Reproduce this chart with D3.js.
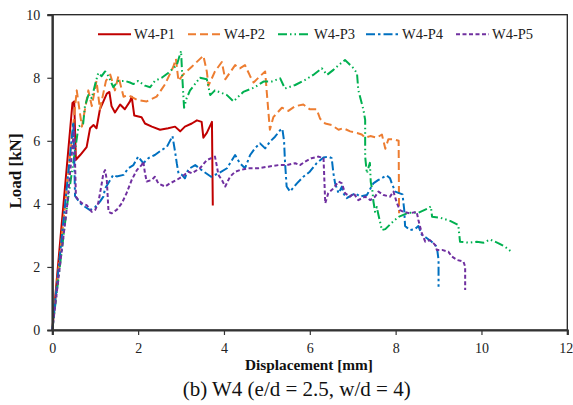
<!DOCTYPE html>
<html><head><meta charset="utf-8">
<script src="https://cdn.jsdelivr.net/npm/d3@7"></script>
<style>body{margin:0;background:#fff}svg{display:block}text{font-family:"Liberation Serif","Times New Roman",serif}</style>
</head><body><svg id="c" width="573" height="405"></svg>
<script>
const xTicks = [0,2,4,6,8,10,12];
const yTicks = [0,2,4,6,8,10];
const seriesNames = ["W4-P1","W4-P2","W4-P3","W4-P4","W4-P5"];
const p1 = [[0,0],[0.47,7.2],[0.51,7.25],[0.55,5.4],[0.65,5.55],[0.8,5.8],[0.88,6.4],[0.96,6.5],[1.03,6.4],[1.11,7.0],[1.27,7.5],[1.33,7.55],[1.38,7.1],[1.46,6.9],[1.58,7.15],[1.69,7.0],[1.81,7.25],[1.85,7.4],[1.91,6.8],[2.08,6.75],[2.16,6.55],[2.32,6.45],[2.51,6.35],[2.7,6.4],[2.86,6.45],[2.98,6.3],[3.09,6.45],[3.25,6.55],[3.37,6.65],[3.48,6.6],[3.52,6.1],[3.6,6.25],[3.72,6.6],[3.74,3.95]];
const p2 = [[0,0],[0.3,4.0],[0.57,7.6],[0.61,7.2],[0.69,6.45],[0.84,7.6],[0.92,7.1],[1.03,7.9],[1.11,7.0],[1.25,7.9],[1.35,8.1],[1.46,7.6],[1.54,8.05],[1.66,7.4],[1.77,7.45],[1.97,7.3],[2.2,7.25],[2.43,7.4],[2.63,7.8],[2.82,8.35],[2.88,8.6],[2.94,7.9],[3.05,8.1],[3.25,8.35],[3.52,8.7],[3.6,8.2],[3.64,7.75],[3.79,8.2],[3.95,8.5],[4.03,7.95],[4.26,8.4],[4.37,8.3],[4.49,8.4],[4.61,8.05],[4.69,7.85],[4.84,8.05],[4.96,8.2],[5.0,7.5],[5.07,6.35],[5.15,6.75],[5.35,7.05],[5.5,6.95],[5.66,7.1],[5.85,7.15],[6.0,7.0],[6.16,7.0],[6.24,6.7],[6.36,6.55],[6.51,6.5],[6.67,6.35],[6.78,6.4],[6.94,6.3],[7.1,6.25],[7.21,6.2],[7.29,6.1],[7.41,6.15],[7.56,6.1],[7.68,6.2],[7.76,5.75],[7.83,6.05],[7.95,6.05],[8.07,6.0],[8.08,3.7]];
const p3 = [[0,0],[0.35,4.0],[0.61,6.45],[0.72,6.55],[0.76,7.1],[0.84,7.45],[0.92,7.35],[1.0,7.8],[1.07,8.15],[1.15,8.05],[1.23,8.2],[1.31,8.05],[1.42,7.7],[1.54,7.9],[1.69,7.9],[1.81,7.85],[1.89,7.8],[2.0,7.9],[2.16,7.75],[2.28,7.7],[2.39,7.9],[2.55,8.0],[2.7,8.15],[2.9,8.4],[3.0,8.85],[3.03,8.0],[3.07,7.05],[3.13,7.35],[3.21,7.6],[3.44,8.0],[3.6,7.95],[3.68,7.45],[3.79,7.6],[4.07,7.45],[4.22,7.25],[4.45,7.55],[4.72,7.7],[4.92,7.88],[5.11,7.88],[5.31,7.98],[5.42,7.66],[5.66,7.77],[5.89,7.93],[6.08,8.09],[6.28,8.3],[6.4,8.09],[6.55,8.25],[6.67,8.4],[6.82,8.56],[6.9,8.46],[7.02,8.3],[7.1,8.14],[7.13,7.61],[7.21,7.19],[7.25,6.98],[7.29,6.66],[7.29,5.5],[7.33,4.97],[7.4,5.3],[7.42,4.7],[7.46,4.4],[7.48,4.1],[7.52,3.75],[7.56,3.9],[7.6,3.65],[7.68,3.17],[7.76,3.2],[7.91,3.4],[8.07,3.59],[8.3,3.72],[8.53,3.72],[8.73,3.84],[8.82,3.92],[8.85,3.59],[9.04,3.56],[9.27,3.46],[9.46,3.33],[9.5,2.8],[9.7,2.77],[9.89,2.8],[10.05,2.77],[10.2,2.87],[10.4,2.75],[10.55,2.64],[10.7,2.48]];
const p4 = [[0,0],[0.3,4.0],[0.49,6.6],[0.53,4.25],[0.65,4.02],[0.76,3.91],[0.88,3.8],[1.0,3.9],[1.11,4.07],[1.19,4.23],[1.23,4.49],[1.35,4.76],[1.42,4.92],[1.5,4.87],[1.66,4.92],[1.77,5.13],[1.89,5.23],[2.0,5.5],[2.12,5.29],[2.24,5.45],[2.39,5.55],[2.55,5.71],[2.67,5.81],[2.8,6.15],[2.86,5.66],[2.9,5.29],[2.94,4.97],[3.02,4.92],[3.09,4.81],[3.17,5.1],[3.33,5.23],[3.5,5.05],[3.7,4.86],[3.87,4.97],[4.07,5.13],[4.26,5.55],[4.37,5.29],[4.49,5.13],[4.61,5.55],[4.72,5.76],[4.84,5.92],[4.96,5.76],[5.07,5.97],[5.19,6.13],[5.31,6.34],[5.36,6.38],[5.4,6.0],[5.42,5.39],[5.46,4.55],[5.54,4.39],[5.7,4.65],[5.85,4.86],[6.0,5.02],[6.16,5.29],[6.32,5.47],[6.43,5.5],[6.51,5.45],[6.55,4.97],[6.59,4.65],[6.67,4.34],[6.75,4.55],[6.78,4.34],[6.86,4.18],[6.98,4.28],[7.06,4.34],[7.17,4.23],[7.33,4.28],[7.48,4.65],[7.6,4.76],[7.79,4.9],[7.87,4.81],[7.91,4.65],[7.99,4.39],[8.16,4.3],[8.2,3.81],[8.22,3.3],[8.33,3.17],[8.45,3.2],[8.53,3.3],[8.61,3.02],[8.73,2.91],[8.84,2.8],[8.96,2.64],[9.0,2.22],[9.0,1.37]];
const p5 = [[0,0],[0.35,4.0],[0.51,6.43],[0.55,4.23],[0.61,4.12],[0.69,4.02],[0.8,3.96],[0.92,3.75],[1.0,3.81],[1.07,4.02],[1.14,4.55],[1.19,4.97],[1.23,5.07],[1.27,4.76],[1.31,3.75],[1.38,3.7],[1.5,3.81],[1.62,4.02],[1.73,4.34],[1.85,4.76],[1.97,5.07],[2.08,5.23],[2.12,5.34],[2.16,4.97],[2.2,4.71],[2.32,4.76],[2.39,4.86],[2.47,4.65],[2.63,4.55],[2.74,4.65],[2.9,4.76],[3.02,4.86],[3.17,5.02],[3.25,4.97],[3.44,5.13],[3.6,5.39],[3.79,5.5],[3.83,5.23],[3.87,4.92],[3.95,4.76],[4.03,4.55],[4.14,4.86],[4.26,5.02],[4.37,5.07],[4.57,5.13],[4.8,5.13],[5.03,5.18],[5.27,5.23],[5.46,5.23],[5.66,5.29],[5.77,5.23],[5.89,5.34],[6.04,5.45],[6.2,5.5],[6.32,5.45],[6.36,4.02],[6.43,4.34],[6.55,4.49],[6.67,4.71],[6.75,4.65],[6.82,4.34],[6.94,4.23],[7.02,4.34],[7.13,4.12],[7.29,4.23],[7.41,4.12],[7.52,4.23],[7.6,4.39],[7.72,4.28],[7.87,4.23],[7.95,4.39],[8.03,4.02],[8.1,3.8],[8.18,3.75],[8.33,3.7],[8.49,3.75],[8.53,3.49],[8.61,3.07],[8.69,2.8],[8.8,2.85],[8.92,2.7],[8.96,2.54],[9.08,2.54],[9.23,2.48],[9.31,2.33],[9.43,2.22],[9.58,2.17],[9.62,2.01],[9.62,1.27]];
const seriesData = [p1,p2,p3,p4,p5];
const colors = ["#C00000","#ED7D31","#00B050","#0070C0","#7030A0"];
const dashes = [null,"8,4","9,3,1.5,3,1.5,3","9,3,2.5,3","4,2.5"];

const svg = d3.select("#c");
const L=52.3, R=567.3, T=14.7, B=330;
const x = d3.scaleLinear().domain([0,12]).range([L,R]);
const y = d3.scaleLinear().domain([0,10]).range([B,T]);

svg.append("rect").attr("width",573).attr("height",405).attr("fill","#fff");

svg.append("rect").attr("x",L).attr("y",T).attr("width",R-L).attr("height",B-T)
  .attr("fill","none").attr("stroke","#222").attr("stroke-width",1.3);

const line = d3.line().x(d=>x(d[0])).y(d=>y(d[1]));
seriesData.forEach((d,i)=>{
  svg.append("path").datum(d).attr("d",line).attr("fill","none")
    .attr("stroke",colors[i]).attr("stroke-width",2)
    .attr("stroke-dasharray",dashes[i]).attr("stroke-linejoin","round");
});

const xAxis = d3.axisBottom(x).tickValues(xTicks).tickSize(5).tickFormat(d3.format("d"));
const yAxis = d3.axisLeft(y).tickValues(yTicks).tickSize(5).tickFormat(d3.format("d"));
const gx = svg.append("g").attr("transform",`translate(0,${B})`).call(xAxis);
const gy = svg.append("g").attr("transform",`translate(${L},0)`).call(yAxis);
[gx,gy].forEach(g=>{
  g.select(".domain").attr("stroke","#333").attr("stroke-width",2.2);
  g.selectAll(".tick line").attr("stroke","#333").attr("stroke-width",1.2);
  g.selectAll(".tick text").attr("fill","#222").style("font-size","14px").style("font-family","'Liberation Serif',serif");
});
gx.selectAll(".tick text").attr("dy","1.05em");
gx.selectAll(".tick text").filter(d=>d===12).attr("text-anchor","end").attr("x",5.5);
gy.selectAll(".tick text").attr("x",-12);

svg.append("text").attr("x",309).attr("y",370).attr("text-anchor","middle")
  .style("font-size","15.3px").style("font-weight","bold").attr("fill","#111").text("Displacement [mm]");
svg.append("text").attr("transform","translate(21,171) rotate(-90)").attr("text-anchor","middle")
  .style("font-size","17px").style("font-weight","bold").attr("fill","#111").text("Load [kN]");
svg.append("text").attr("x",296.7).attr("y",396).attr("text-anchor","middle")
  .style("font-size","21px").attr("fill","#111").text("(b) W4 (e/d = 2.5, w/d = 4)");

const legX = [98,188,278,366,456];
seriesNames.forEach((n,i)=>{
  const g = svg.append("g").attr("transform",`translate(${legX[i]},34.3)`);
  g.append("line").attr("x1",0).attr("x2",33).attr("y1",0).attr("y2",0)
    .attr("stroke",colors[i]).attr("stroke-width",2).attr("stroke-dasharray",dashes[i]);
  g.append("text").attr("x",36).attr("y",5).style("font-size","14.5px").attr("fill","#222").text(n);
});
</script></body></html>
